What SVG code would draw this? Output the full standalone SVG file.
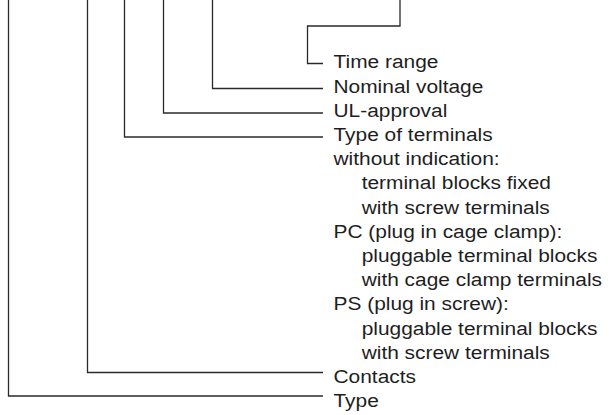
<svg xmlns="http://www.w3.org/2000/svg" width="609" height="415" viewBox="0 0 609 415">
<style>
.ln{fill:none;stroke:#2a2a2a;stroke-width:1.3;stroke-linejoin:miter}
.t{font-family:"Liberation Sans",Arial,Helvetica,sans-serif;font-size:19px;fill:#1e1e1e}
</style>
<rect width="609" height="415" fill="#fff"/>
<g id="connectors">
<polyline class="ln" points="400,0 400,26 307.5,26 307.5,63.5 323,63.5"/>
<polyline class="ln" points="212.5,0 212.5,88.5 323,88.5"/>
<polyline class="ln" points="163.5,0 163.5,113 323,113"/>
<polyline class="ln" points="124.5,0 124.5,137 323,137"/>
<polyline class="ln" points="87.5,0 87.5,372.5 323,372.5"/>
<polyline class="ln" points="8.5,0 8.5,396 323,396"/>
</g>
<g transform="translate(333.5,0) scale(1.1,1)">
<g id="time-range"><text class="t" x="0" y="68.5">Time range</text></g>
<g id="nominal-voltage"><text class="t" x="0" y="92.7">Nominal voltage</text></g>
<g id="ul-approval"><text class="t" x="0" y="116.9">UL-approval</text></g>
<g id="type-of-terminals">
<text class="t" x="0" y="141.1">Type of terminals</text>
<text class="t" x="0" y="165.3">without indication:</text>
<text class="t" x="25.6" y="189.5">terminal blocks fixed</text>
<text class="t" x="25.6" y="213.7">with screw terminals</text>
<text class="t" x="0" y="237.9">PC (plug in cage clamp):</text>
<text class="t" x="25.6" y="262.1">pluggable terminal blocks</text>
<text class="t" x="25.6" y="286.3">with cage clamp terminals</text>
<text class="t" x="0" y="310.5">PS (plug in screw):</text>
<text class="t" x="25.6" y="334.7">pluggable terminal blocks</text>
<text class="t" x="25.6" y="358.9">with screw terminals</text>
</g>
<g id="contacts"><text class="t" x="0" y="383.1">Contacts</text></g>
<g id="type"><text class="t" x="0" y="407.3">Type</text></g>
</g>
</svg>
